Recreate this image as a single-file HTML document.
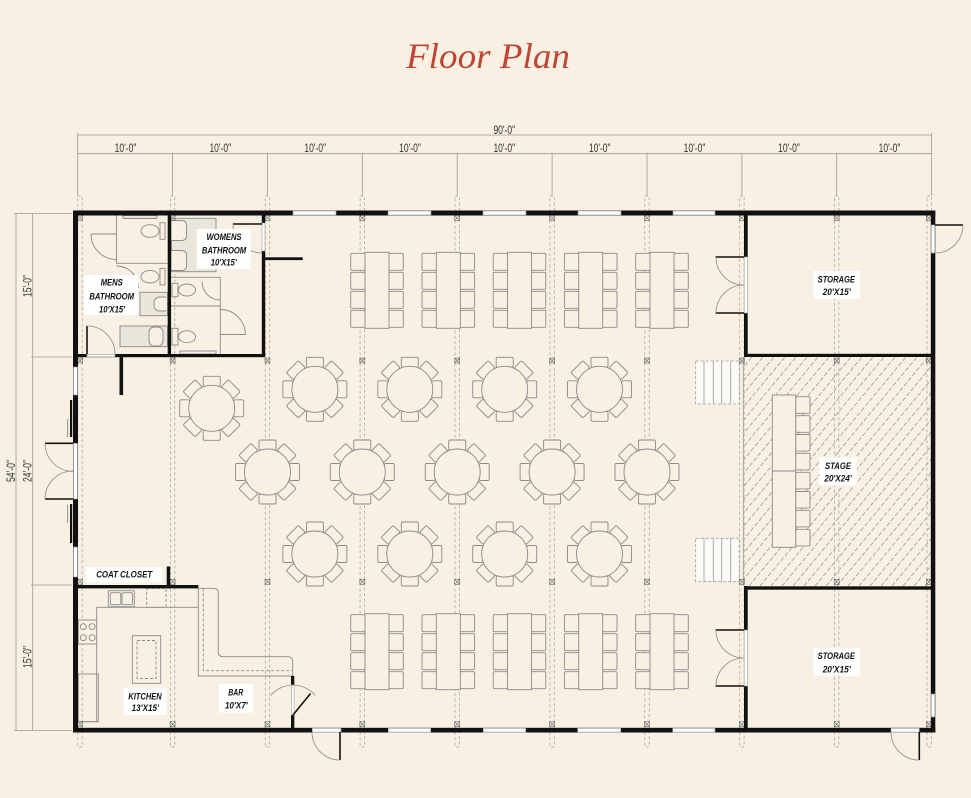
<!DOCTYPE html>
<html><head><meta charset="utf-8"><style>
html,body{margin:0;padding:0;background:#F8F0E3;}
svg{display:block;}
.lbl{font-family:"Liberation Sans Narrow","Liberation Sans",sans-serif;font-weight:bold;font-style:italic;font-size:9.5px;fill:#111;text-anchor:middle;}
.dim{font-family:"Liberation Sans Narrow","Liberation Sans",sans-serif;font-size:12px;fill:#333;text-anchor:middle;}
</style></head><body>
<svg width="971" height="798" viewBox="0 0 971 798" xmlns="http://www.w3.org/2000/svg">
<defs>
<clipPath id="stageclip"><rect x="744" y="357" width="187" height="229"/></clipPath>
<g id="rt" fill="#F8F0E3" stroke="#8a8a8a" stroke-width="0.9">
<rect x="-8.5" y="-32" width="17" height="10" rx="1.5"/>
<rect x="-8.5" y="-32" width="17" height="10" rx="1.5" transform="rotate(45)"/>
<rect x="-8.5" y="-32" width="17" height="10" rx="1.5" transform="rotate(90)"/>
<rect x="-8.5" y="-32" width="17" height="10" rx="1.5" transform="rotate(135)"/>
<rect x="-8.5" y="-32" width="17" height="10" rx="1.5" transform="rotate(180)"/>
<rect x="-8.5" y="-32" width="17" height="10" rx="1.5" transform="rotate(225)"/>
<rect x="-8.5" y="-32" width="17" height="10" rx="1.5" transform="rotate(270)"/>
<rect x="-8.5" y="-32" width="17" height="10" rx="1.5" transform="rotate(315)"/>
<circle r="23"/>
</g>
<g id="tt" fill="#F8F0E3" stroke="#8a8a8a" stroke-width="0.9">
<rect x="-14.3" y="1" width="15" height="17" rx="1.2"/>
<rect x="-14.3" y="20" width="15" height="17" rx="1.2"/>
<rect x="-14.3" y="39" width="15" height="17" rx="1.2"/>
<rect x="-14.3" y="58" width="15" height="17" rx="1.2"/>
<rect x="23.3" y="1" width="15" height="17" rx="1.2"/>
<rect x="23.3" y="20" width="15" height="17" rx="1.2"/>
<rect x="23.3" y="39" width="15" height="17" rx="1.2"/>
<rect x="23.3" y="58" width="15" height="17" rx="1.2"/>
<rect x="0" y="0" width="24" height="76"/>
</g>
<g id="mk" fill="none" stroke="#666" stroke-width="0.6">
<rect x="-2.5" y="-2.5" width="5" height="5"/>
<path d="M-2.5,-2.5 L2.5,2.5 M2.5,-2.5 L-2.5,2.5"/>
</g>
</defs>

<rect width="971" height="798" fill="#F8F0E3"/>

<!-- Title -->
<text x="488" y="68" font-family="Liberation Serif, serif" font-style="italic" font-size="36" fill="#BF4534" text-anchor="middle" textLength="164" lengthAdjust="spacingAndGlyphs">Floor Plan</text>

<!-- Top dimensions -->
<g stroke="#9a9a9a" stroke-width="0.8" fill="none">
<line x1="77.7" y1="135" x2="931.6" y2="135"/>
<line x1="77.7" y1="153.7" x2="931.6" y2="153.7"/>
<line x1="77.7" y1="133" x2="77.7" y2="196"/>
<line x1="931.6" y1="133" x2="931.6" y2="196"/>
<line x1="172.6" y1="152.5" x2="172.6" y2="196"/>
<line x1="267.5" y1="152.5" x2="267.5" y2="196"/>
<line x1="362.3" y1="152.5" x2="362.3" y2="196"/>
<line x1="457.2" y1="152.5" x2="457.2" y2="196"/>
<line x1="552.1" y1="152.5" x2="552.1" y2="196"/>
<line x1="647" y1="152.5" x2="647" y2="196"/>
<line x1="741.9" y1="152.5" x2="741.9" y2="196"/>
<line x1="836.7" y1="152.5" x2="836.7" y2="196"/>
<line x1="16" y1="213.5" x2="16" y2="730.5"/>
<line x1="32.7" y1="213.5" x2="32.7" y2="730.5"/>
<line x1="14" y1="213.5" x2="72" y2="213.5"/>
<line x1="31" y1="357" x2="72" y2="357"/>
<line x1="31" y1="585" x2="72" y2="585"/>
<line x1="14" y1="730.5" x2="72" y2="730.5"/>
</g>
<g class="dim">
<text x="504.3" y="134" textLength="21.7" lengthAdjust="spacingAndGlyphs">90'-0"</text>
<text x="125.5" y="152" textLength="21.7" lengthAdjust="spacingAndGlyphs">10'-0"</text>
<text x="220.3" y="152" textLength="21.7" lengthAdjust="spacingAndGlyphs">10'-0"</text>
<text x="315.2" y="152" textLength="21.7" lengthAdjust="spacingAndGlyphs">10'-0"</text>
<text x="410" y="152" textLength="21.7" lengthAdjust="spacingAndGlyphs">10'-0"</text>
<text x="504.3" y="152" textLength="21.7" lengthAdjust="spacingAndGlyphs">10'-0"</text>
<text x="599.7" y="152" textLength="21.7" lengthAdjust="spacingAndGlyphs">10'-0"</text>
<text x="694.5" y="152" textLength="21.7" lengthAdjust="spacingAndGlyphs">10'-0"</text>
<text x="789" y="152" textLength="21.7" lengthAdjust="spacingAndGlyphs">10'-0"</text>
<text x="889.5" y="152" textLength="21.7" lengthAdjust="spacingAndGlyphs">10'-0"</text>
<text transform="translate(15,471) rotate(-90)" textLength="22" lengthAdjust="spacingAndGlyphs">54'-0"</text>
<text transform="translate(31.5,471) rotate(-90)" textLength="22" lengthAdjust="spacingAndGlyphs">24'-0"</text>
<text transform="translate(31.5,286) rotate(-90)" textLength="22" lengthAdjust="spacingAndGlyphs">15'-0"</text>
<text transform="translate(31.5,657) rotate(-90)" textLength="22" lengthAdjust="spacingAndGlyphs">15'-0"</text>
</g>

<!-- Stage hatch -->
<g clip-path="url(#stageclip)">
<path fill="none" stroke="#9a9a9a" stroke-width="0.8" stroke-dasharray="4.5 2" d="M551,586l190,-229 M562,586l190,-229 M573,586l190,-229 M584,586l190,-229 M595,586l190,-229 M606,586l190,-229 M617,586l190,-229 M628,586l190,-229 M639,586l190,-229 M650,586l190,-229 M661,586l190,-229 M672,586l190,-229 M683,586l190,-229 M694,586l190,-229 M705,586l190,-229 M716,586l190,-229 M727,586l190,-229 M738,586l190,-229 M749,586l190,-229 M760,586l190,-229 M771,586l190,-229 M782,586l190,-229 M793,586l190,-229 M804,586l190,-229 M815,586l190,-229 M826,586l190,-229 M837,586l190,-229 M848,586l190,-229 M859,586l190,-229 M870,586l190,-229 M881,586l190,-229 M892,586l190,-229 M903,586l190,-229 M914,586l190,-229 M925,586l190,-229"/>
</g>
<line x1="743.3" y1="357" x2="743.3" y2="586" stroke="#9a9a9a" stroke-width="0.8"/>

<!-- Column dashed lines -->
<g fill="none" stroke="#a8a8a8" stroke-width="0.8" stroke-dasharray="3 2.5">
<rect x="77.8" y="196" width="4.4" height="551"/>
<rect x="170.4" y="196" width="4.4" height="551"/>
<rect x="265.3" y="196" width="4.4" height="551"/>
<rect x="360.1" y="196" width="4.4" height="551"/>
<rect x="455" y="196" width="4.4" height="551"/>
<rect x="549.9" y="196" width="4.4" height="551"/>
<rect x="644.8" y="196" width="4.4" height="551"/>
<rect x="739.7" y="196" width="4.4" height="551"/>
<rect x="834.5" y="196" width="4.4" height="551"/>
<rect x="927" y="196" width="4.4" height="551"/>
</g>

<!-- Rect tables -->
<use href="#tt" x="365" y="252.3"/>
<use href="#tt" x="436.3" y="252.3"/>
<use href="#tt" x="507.5" y="252.3"/>
<use href="#tt" x="578.7" y="252.3"/>
<use href="#tt" x="650" y="252.3"/>
<use href="#tt" x="365" y="613.7"/>
<use href="#tt" x="436.3" y="613.7"/>
<use href="#tt" x="507.5" y="613.7"/>
<use href="#tt" x="578.7" y="613.7"/>
<use href="#tt" x="650" y="613.7"/>

<!-- Round tables -->
<use href="#rt" x="211.7" y="408.3"/>
<use href="#rt" x="314.9" y="389.3"/>
<use href="#rt" x="409.8" y="389.3"/>
<use href="#rt" x="504.7" y="389.3"/>
<use href="#rt" x="599.5" y="389.3"/>
<use href="#rt" x="267.5" y="472"/>
<use href="#rt" x="362.3" y="472"/>
<use href="#rt" x="457.2" y="472"/>
<use href="#rt" x="552.1" y="472"/>
<use href="#rt" x="647" y="472"/>
<use href="#rt" x="314.9" y="554"/>
<use href="#rt" x="409.8" y="554"/>
<use href="#rt" x="504.7" y="554"/>
<use href="#rt" x="599.5" y="554"/>

<!-- Stage table and chairs -->
<g fill="#F8F0E3" stroke="#8a8a8a" stroke-width="0.9">
<rect x="795.7" y="396.7" width="14.3" height="16.6" rx="1.2"/>
<rect x="795.7" y="415.7" width="14.3" height="16.6" rx="1.2"/>
<rect x="795.7" y="434.5" width="14.3" height="16.6" rx="1.2"/>
<rect x="795.7" y="453.3" width="14.3" height="16.6" rx="1.2"/>
<rect x="795.7" y="472.3" width="14.3" height="16.6" rx="1.2"/>
<rect x="795.7" y="491.5" width="14.3" height="16.6" rx="1.2"/>
<rect x="795.7" y="510.3" width="14.3" height="16.6" rx="1.2"/>
<rect x="795.7" y="529.3" width="14.3" height="16.6" rx="1.2"/>
<rect x="772.3" y="395" width="23.4" height="152.3"/>
<line x1="772.3" y1="471" x2="795.7" y2="471"/>
</g>

<!-- Stairs -->
<g stroke="#9a9a9a" stroke-width="0.8">
<rect x="695.7" y="361" width="43.6" height="43" fill="#fdfbf7" stroke-dasharray="3 2"/>
<path d="M704,361 V404 M713.3,361 V404 M721.7,361 V404 M730.7,361 V404" fill="none"/>
<rect x="695.7" y="538.3" width="43.6" height="43.4" fill="#fdfbf7" stroke-dasharray="3 2"/>
<path d="M704,538.3 V581.7 M713.3,538.3 V581.7 M721.7,538.3 V581.7 M730.7,538.3 V581.7" fill="none"/>
</g>

<!-- Bathroom fixtures -->
<g fill="none" stroke="#8a8a8a" stroke-width="0.9">
<rect x="123" y="215.5" width="34" height="3" rx="1" fill="#ebe6dc"/>
<path d="M116.5,215.5 V263.3 H167.7"/>
<path d="M91,234 H116.5"/>
<path d="M91,234 A25.5,25.5 0 0 0 116.5,259.5"/>
<rect x="160" y="222.7" width="5" height="16.6" fill="#F8F0E3"/>
<ellipse cx="150" cy="231" rx="9" ry="6.3" fill="#F8F0E3"/>
<rect x="160" y="268.3" width="5" height="16.6" fill="#F8F0E3"/>
<ellipse cx="150" cy="276.7" rx="9" ry="6.3" fill="#F8F0E3"/>
<path d="M116.5,266 A22,22 0 0 1 138.5,288"/>
<rect x="140" y="292.3" width="27.5" height="23.4" fill="#ebe6dc"/>
<path d="M166,297 h-6 q-6,0 -6,7 q0,7 6,7 h6" fill="#F8F0E3"/>
<rect x="120" y="326" width="47.5" height="20.7" fill="#ebe6dc"/>
<rect x="149" y="327" width="14" height="19" rx="5" fill="#F8F0E3"/>
<rect x="171.5" y="218.3" width="44.5" height="53.4" fill="#ebe6dc"/>
<path d="M171.5,220.5 h10 q5,0 5,5 v10 q0,5 -5,5 h-10" fill="#F8F0E3"/>
<path d="M171.5,250.5 h10 q5,0 5,5 v10 q0,5 -5,5 h-10" fill="#F8F0E3"/>
<path d="M171,277.3 H220.3 V354"/>
<path d="M202,281.7 A18.3,18.3 0 0 0 220.3,300"/>
<path d="M171,306 H220.3"/>
<rect x="172" y="283.3" width="6" height="13.4" fill="#F8F0E3"/>
<ellipse cx="187" cy="290" rx="8.5" ry="6" fill="#F8F0E3"/>
<rect x="172" y="328.3" width="6" height="16.7" fill="#F8F0E3"/>
<ellipse cx="187" cy="336.7" rx="8.5" ry="6" fill="#F8F0E3"/>
<path d="M220.3,309.5 A25,25 0 0 1 245.3,334.5 H220.3"/>
<rect x="180" y="351" width="36" height="3"/>
<path d="M78,721.7 H96.7 V607.3 H198.3"/>
<rect x="78.3" y="620" width="18.4" height="24" fill="#F8F0E3"/>
<circle cx="83.3" cy="626.7" r="3"/>
<circle cx="92.2" cy="626.7" r="3"/>
<circle cx="83.3" cy="637.7" r="3"/>
<circle cx="92.2" cy="637.7" r="3"/>
<rect x="78.3" y="674" width="20" height="47.7"/>
<rect x="108.3" y="590.7" width="26" height="16" fill="#F8F0E3"/>
<rect x="110.3" y="592.7" width="10.5" height="12" rx="1.5"/>
<rect x="122" y="592.7" width="10.5" height="12" rx="1.5"/>
<rect x="146.7" y="588.3" width="19.3" height="19" stroke-dasharray="3 2"/>
<rect x="132.3" y="635.7" width="28.4" height="47.6"/>
<rect x="137" y="640.5" width="19" height="38" stroke-dasharray="3 2"/>
<path d="M198.3,588.3 V676 H292.5"/>
<path d="M198.3,588.3 H213.3 Q218.3,588.3 218.3,593.3 V651.7 Q218.3,656.7 223.3,656.7 H287.7 Q292.7,656.7 292.7,661.7 V676"/>
<path d="M203.3,588.5 V670.7 H292.7" stroke-dasharray="3 2"/>
</g>

<!-- Column markers -->
<g>
<use href="#mk" x="80" y="217.8"/><use href="#mk" x="172.6" y="217.8"/><use href="#mk" x="267.5" y="217.8"/><use href="#mk" x="362.3" y="217.8"/><use href="#mk" x="457.2" y="217.8"/><use href="#mk" x="552.1" y="217.8"/><use href="#mk" x="647" y="217.8"/><use href="#mk" x="741.9" y="217.8"/><use href="#mk" x="836.7" y="217.8"/><use href="#mk" x="928.8" y="217.8"/>
<use href="#mk" x="80" y="360.5"/><use href="#mk" x="172.6" y="360.5"/><use href="#mk" x="267.5" y="360.5"/><use href="#mk" x="362.3" y="360.5"/><use href="#mk" x="457.2" y="360.5"/><use href="#mk" x="552.1" y="360.5"/><use href="#mk" x="647" y="360.5"/><use href="#mk" x="741.9" y="360.5"/><use href="#mk" x="836.7" y="360.5"/><use href="#mk" x="928.8" y="360.5"/>
<use href="#mk" x="80" y="581.8"/><use href="#mk" x="172.6" y="581.8"/><use href="#mk" x="267.5" y="581.8"/><use href="#mk" x="362.3" y="581.8"/><use href="#mk" x="457.2" y="581.8"/><use href="#mk" x="552.1" y="581.8"/><use href="#mk" x="647" y="581.8"/><use href="#mk" x="741.9" y="581.8"/><use href="#mk" x="836.7" y="581.8"/><use href="#mk" x="928.8" y="581.8"/>
<use href="#mk" x="80" y="724.3"/><use href="#mk" x="172.6" y="724.3"/><use href="#mk" x="267.5" y="724.3"/><use href="#mk" x="362.3" y="724.3"/><use href="#mk" x="457.2" y="724.3"/><use href="#mk" x="552.1" y="724.3"/><use href="#mk" x="647" y="724.3"/><use href="#mk" x="741.9" y="724.3"/><use href="#mk" x="836.7" y="724.3"/><use href="#mk" x="928.8" y="724.3"/>
</g>

<!-- Walls -->
<g fill="#111">
<rect x="73" y="210.5" width="862.3" height="5"/>
<rect x="73" y="727.8" width="862.3" height="4.7"/>
<rect x="73" y="210.5" width="5" height="522"/>
<rect x="930.8" y="210.5" width="4.5" height="522"/>
<rect x="167.7" y="215" width="3.4" height="142"/>
<rect x="261.8" y="215" width="3.4" height="8"/>
<rect x="261.8" y="251" width="3.4" height="106"/>
<rect x="265" y="257.3" width="37.7" height="2.8"/>
<rect x="73" y="354" width="192.2" height="3.2"/>
<rect x="119.5" y="355" width="3.6" height="40"/>
<rect x="166.7" y="566.5" width="3.5" height="22"/>
<rect x="73" y="585" width="125.3" height="3.4"/>
<rect x="291" y="676" width="3.3" height="9"/>
<rect x="291" y="715" width="3.3" height="15"/>
<rect x="744" y="215" width="3.7" height="42"/>
<rect x="744" y="313" width="3.7" height="44"/>
<rect x="744" y="353.8" width="191" height="3.2"/>
<rect x="744" y="586.3" width="191" height="3.4"/>
<rect x="744" y="586" width="3.7" height="44"/>
<rect x="744" y="686" width="3.7" height="44"/>
<rect x="70" y="400" width="2.2" height="37"/>
<rect x="70" y="504" width="2.2" height="39"/>
</g>
<g stroke="#777" stroke-width="0.8">
<line x1="67.7" y1="419" x2="67.7" y2="437"/>
<line x1="67.7" y1="505" x2="67.7" y2="523"/>
</g>

<!-- Windows / door openings -->
<g fill="#ffffff" stroke="#9a9a9a" stroke-width="0.6">
<rect x="293" y="211" width="43" height="4"/>
<rect x="388" y="211" width="43" height="4"/>
<rect x="483" y="211" width="43" height="4"/>
<rect x="578" y="211" width="43" height="4"/>
<rect x="673" y="211" width="42" height="4"/>
<rect x="312.3" y="728.3" width="28.7" height="3.8"/>
<rect x="388.3" y="728.3" width="42.4" height="3.8"/>
<rect x="483.3" y="728.3" width="42.4" height="3.8"/>
<rect x="577.7" y="728.3" width="43" height="3.8"/>
<rect x="672.7" y="728.3" width="42.3" height="3.8"/>
<rect x="891" y="728.3" width="28.3" height="3.8"/>
<rect x="73.5" y="367" width="4" height="28"/>
<rect x="73.5" y="443.3" width="4" height="55.7"/>
<rect x="73.5" y="547" width="4" height="30"/>
<rect x="931.3" y="225" width="3.5" height="28"/>
<rect x="931.3" y="694" width="3.5" height="23"/>
<rect x="262" y="223" width="3" height="28"/>
<rect x="87" y="354.3" width="28" height="2.6"/>
<rect x="291.3" y="685" width="2.8" height="30"/>
<rect x="744.2" y="257" width="3.3" height="56"/>
<rect x="744.2" y="630" width="3.3" height="56"/>
</g>

<!-- Door leaves -->
<g stroke="#111" stroke-width="1.6" fill="none">
<line x1="45" y1="443.3" x2="73" y2="443.3"/>
<line x1="45" y1="499" x2="73" y2="499"/>
<line x1="715.5" y1="257" x2="744" y2="257"/>
<line x1="715.5" y1="313" x2="744" y2="313"/>
<line x1="715.5" y1="630" x2="744" y2="630"/>
<line x1="715.5" y1="686" x2="744" y2="686"/>
<line x1="935" y1="225" x2="963" y2="225"/>
<line x1="340" y1="732" x2="340" y2="760"/>
<line x1="919.3" y1="732" x2="919.3" y2="760"/>
<line x1="87" y1="326" x2="87" y2="354"/>
<line x1="233" y1="224" x2="262" y2="224"/>
<line x1="293" y1="715" x2="310.5" y2="693.5"/>
</g>
<g stroke="#8a8a8a" stroke-width="0.8" fill="none">
<path d="M45,443.3 A28,28 0 0 0 73,471.3"/>
<path d="M45,499 A28,28 0 0 1 73,471"/>
<path d="M716,257 A28,28 0 0 0 744,285"/>
<path d="M716,313 A28,28 0 0 1 744,285"/>
<path d="M716,630 A28,28 0 0 0 744,658"/>
<path d="M716,686 A28,28 0 0 1 744,658"/>
<path d="M963,225 A28,28 0 0 1 935,253"/>
<path d="M312,732 A28,28 0 0 0 340,760"/>
<path d="M891,732 A28,28 0 0 0 919,760"/>
<path d="M87,326 A28,28 0 0 1 115,354"/>
<path d="M233,224 A29,29 0 0 0 262,253"/>
<path d="M270.6,695.5 A29.4,29.4 0 0 1 315.4,695.5"/>
</g>

<!-- Label boxes -->
<g fill="#ffffff">
<rect x="84" y="275" width="54.3" height="40"/>
<rect x="196.7" y="229" width="54" height="40"/>
<rect x="86" y="567" width="76" height="15.5"/>
<rect x="123.3" y="687.7" width="43.4" height="27.3"/>
<rect x="219" y="684" width="34.3" height="28.7"/>
<rect x="813.3" y="271" width="46.7" height="28"/>
<rect x="819.3" y="457.3" width="37.4" height="28.4"/>
<rect x="813.3" y="648.3" width="46.7" height="27.4"/>
</g>
<g class="lbl">
<text x="111.7" y="285.7" textLength="22" lengthAdjust="spacingAndGlyphs">MENS</text>
<text x="111.7" y="299.4" textLength="44.7" lengthAdjust="spacingAndGlyphs">BATHROOM</text>
<text x="112" y="312.4" textLength="26" lengthAdjust="spacingAndGlyphs">10'X15'</text>
<text x="224" y="239.8" textLength="35" lengthAdjust="spacingAndGlyphs">WOMENS</text>
<text x="224" y="253.4" textLength="44.3" lengthAdjust="spacingAndGlyphs">BATHROOM</text>
<text x="223.7" y="265.4" textLength="26" lengthAdjust="spacingAndGlyphs">10'X15'</text>
<text x="124.2" y="577.6" textLength="56" lengthAdjust="spacingAndGlyphs">COAT CLOSET</text>
<text x="145" y="699.4" textLength="33.4" lengthAdjust="spacingAndGlyphs">KITCHEN</text>
<text x="145.3" y="711.1" textLength="27.3" lengthAdjust="spacingAndGlyphs">13'X15'</text>
<text x="235.8" y="695.7" textLength="15" lengthAdjust="spacingAndGlyphs">BAR</text>
<text x="236.3" y="708.4" textLength="22.7" lengthAdjust="spacingAndGlyphs">10'X7'</text>
<text x="836.3" y="282.4" textLength="37.3" lengthAdjust="spacingAndGlyphs">STORAGE</text>
<text x="836.7" y="295.1" textLength="28" lengthAdjust="spacingAndGlyphs">20'X15'</text>
<text x="838" y="469.1" textLength="26" lengthAdjust="spacingAndGlyphs">STAGE</text>
<text x="838" y="481.7" textLength="27.3" lengthAdjust="spacingAndGlyphs">20'X24'</text>
<text x="836.3" y="659.1" textLength="37.3" lengthAdjust="spacingAndGlyphs">STORAGE</text>
<text x="836.7" y="672.4" textLength="28" lengthAdjust="spacingAndGlyphs">20'X15'</text>
</g>
</svg>
</body></html>
